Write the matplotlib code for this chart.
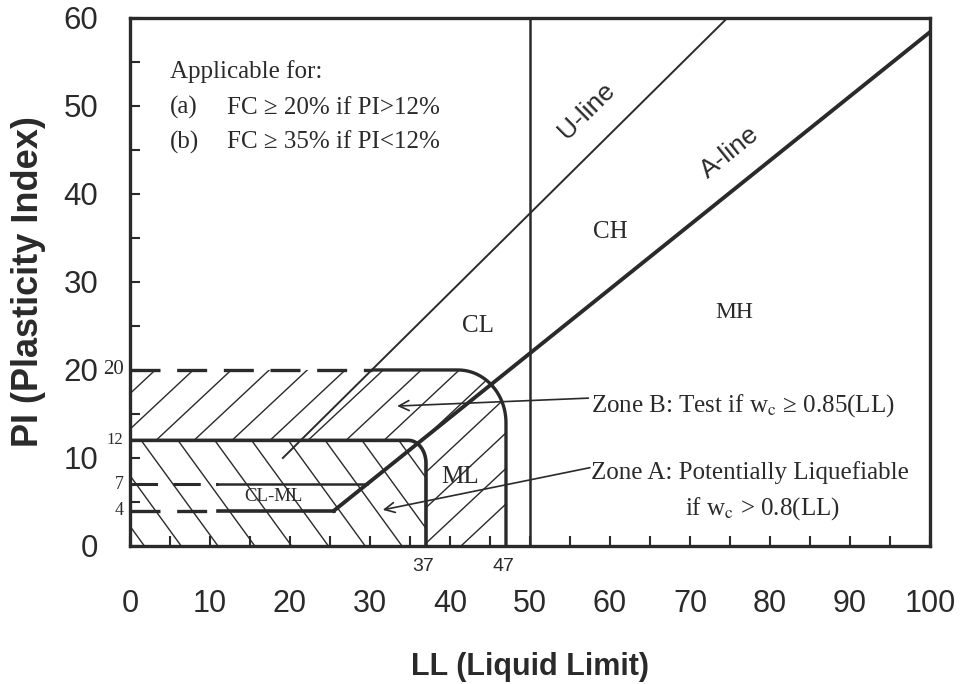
import numpy as np
import matplotlib.pyplot as plt
from matplotlib.path import Path
from matplotlib.patches import PathPatch

plt.rcParams["mathtext.fontset"] = "stix"

INK = "#2a2a2a"
SANS = "Liberation Sans"
SERIF = "Liberation Serif"

# Axis ticks
ll_ticks = [0, 10, 20, 30, 40, 50, 60, 70, 80, 90, 100]
pi_ticks = [0, 10, 20, 30, 40, 50, 60]

# Casagrande lines: PI = slope * (LL - ll0)
a_slope, a_ll0 = 0.73, 20
u_slope, u_ll0 = 0.9, 8
u_start_pi = 10

# Liquefaction zone limits
zone_a_ll, zone_a_pi = 37, 12
zone_b_ll, zone_b_pi = 47, 20
clml_pi = [4, 7]
dash_end_ll = 11

# Soil group labels
soil_names = ["CL", "CH", "MH", "ML", "CL-ML"]
soil_ll = [43.5, 60.0, 75.5, 41.3, 17.9]
soil_pi = [25.0, 35.7, 26.5, 7.8, 5.6]
soil_size = [18, 18, 17, 18, 13.5]

# Extra y labels next to axis
extra_pi = [20, 12, 7, 4]
extra_size = [15, 12, 13, 13]


def a_line_ll(pi):
    return pi / a_slope + a_ll0


def u_line_ll(pi):
    return pi / u_slope + u_ll0


def corner(ll_edge, pi_top, rx, ry, n=24):
    t = np.linspace(np.pi / 2, 0, n)
    return (ll_edge - rx) + rx * np.cos(t), (pi_top - ry) + ry * np.sin(t)


fig = plt.figure(figsize=(9.65, 6.84), dpi=100)
ax = fig.add_axes([0.1347, 0.2018, 0.8290, 0.7719])
ax.set_xlim(0, 100)
ax.set_ylim(0, 60)

# zone outlines
axc, ayc = corner(zone_a_ll, zone_a_pi, 2.2, 2.6)
bxc, byc = corner(zone_b_ll, zone_b_pi, 6.0, 6.0)
u20 = u_line_ll(zone_b_pi)
bx_solid = np.concatenate([[u20], bxc, [zone_b_ll]])
by_solid = np.concatenate([[zone_b_pi], byc, [0]])
ax_out = np.concatenate([[0], axc, [zone_a_ll]])
ay_out = np.concatenate([[zone_a_pi], ayc, [0]])

# clip paths for hatching
a_poly = np.column_stack([np.concatenate([[0], ax_out, [0]]),
                          np.concatenate([[0], ay_out, [0]])])
b_poly = np.column_stack([
    np.concatenate([[0], bxc, [zone_b_ll], ax_out[::-1]]),
    np.concatenate([[zone_b_pi], byc, [0], ay_out[::-1]]),
])
clip_a = PathPatch(Path(a_poly), facecolor="none", edgecolor="none")
clip_b = PathPatch(Path(b_poly), facecolor="none", edgecolor="none")
ax.add_patch(clip_a)
ax.add_patch(clip_b)

pi_span = np.array([-1, 22])
for x0 in np.arange(-30, 60, 4.75):
    ln, = ax.plot(x0 + (pi_span - 12) / 0.85, pi_span, color=INK, lw=1.0)
    ln.set_clip_path(clip_b)
for x0 in np.arange(1.4 - 4.6 * 3, 60, 4.6):
    ln, = ax.plot(x0 + (pi_span - 12) / -1.25, pi_span, color=INK, lw=1.0)
    ln.set_clip_path(clip_a)

# zone B boundary: dashed up to the U-line, solid after
ax.plot([0, u20], [zone_b_pi, zone_b_pi], color=INK, lw=2.4, dashes=(9, 5))
ax.plot(bx_solid, by_solid, color=INK, lw=2.4, solid_capstyle="butt")
# zone A boundary
ax.plot(ax_out, ay_out, color=INK, lw=2.6)

# CL-ML band
ax.plot([0, dash_end_ll], [clml_pi[1]] * 2, color=INK, lw=2.2, dashes=(9, 5))
ax.plot([dash_end_ll, a_line_ll(clml_pi[1])], [clml_pi[1]] * 2, color=INK, lw=1.8)
ax.plot([0, dash_end_ll], [clml_pi[0]] * 2, color=INK, lw=2.4, dashes=(9, 5))
ax.plot([dash_end_ll, a_line_ll(clml_pi[0])], [clml_pi[0]] * 2, color=INK, lw=2.6)

# A-line, U-line, LL = 50
ax.plot([a_line_ll(clml_pi[0]), 100], [clml_pi[0], a_slope * (100 - a_ll0)],
        color=INK, lw=2.8)
ax.plot([u_line_ll(u_start_pi), u_line_ll(60)], [u_start_pi, 60], color=INK, lw=1.4)
ax.axvline(50, color=INK, lw=1.8)

ax.text(57.1, 49.5, "U-line", rotation=44.7, ha="center", va="center",
        fontsize=19, family=SANS, color=INK, rotation_mode="anchor")
ax.text(75.0, 44.7, "A-line", rotation=38.8, ha="center", va="center",
        fontsize=19, family=SANS, color=INK, rotation_mode="anchor")

for name, x, y, s in zip(soil_names, soil_ll, soil_pi, soil_size):
    ax.text(x, y, name, ha="center", va="center", fontsize=s, family=SERIF, color=INK)

# notes
note_kw = dict(fontsize=18, family=SERIF, color=INK, va="center", ha="left")
ax.text(5.0, 53.9, "Applicable for:", **note_kw)
ax.text(5.0, 49.8, "(a)", **note_kw)
ax.text(12.1, 49.8, "FC \u2265 20% if PI>12%", **note_kw)
ax.text(5.0, 45.9, "(b)", **note_kw)
ax.text(12.1, 45.9, "FC \u2265 35% if PI<12%", **note_kw)

ax.text(57.6, 16.0, "Zone B: Test if w$_\\mathrm{c}$ \u2265 0.85(LL)", **note_kw)
ax.text(57.6, 8.3, "Zone A: Potentially Liquefiable", **note_kw)
ax.text(69.4, 4.3, "if w$_\\mathrm{c}$ > 0.8(LL)", **note_kw)

arrow_kw = dict(arrowstyle="->", color=INK, lw=1.2, shrinkA=0, shrinkB=0,
                mutation_scale=18)
ax.annotate("", xy=(33.4, 15.9), xytext=(57.3, 16.8), arrowprops=arrow_kw)
ax.annotate("", xy=(31.6, 4.1), xytext=(57.5, 8.9), arrowprops=arrow_kw)

# boundary values on the axes
for pi, s in zip(extra_pi, extra_size):
    ax.text(-0.8, pi, str(pi), ha="right", va="center", fontsize=s,
            family=SERIF, color=INK, clip_on=False)
for ll in [zone_a_ll, zone_b_ll]:
    ax.text(ll - 0.3, -2.3, str(ll), ha="center", va="center", fontsize=14,
            family=SANS, color=INK, clip_on=False)

# axes styling
ax.set_xticks(ll_ticks)
ax.set_yticks(pi_ticks)
ax.set_xticks(np.arange(5, 100, 10), minor=True)
ax.set_yticks(np.arange(5, 60, 10), minor=True)
ax.tick_params(which="both", direction="in", length=7, width=1.5, color=INK,
               top=False, right=False)
ax.tick_params(axis="x", which="major", pad=31, labelsize=22, labelcolor=INK)
ax.tick_params(axis="y", which="major", pad=23, labelsize=22.5, labelcolor=INK)
for lab in ax.get_xticklabels() + ax.get_yticklabels():
    lab.set_family(SANS)
for sp in ax.spines.values():
    sp.set_linewidth(2.4)
    sp.set_color(INK)

ax.set_xlabel("LL (Liquid Limit)", fontsize=22, fontweight="bold", family=SANS,
              color=INK, labelpad=24)
ax.set_ylabel("PI (Plasticity Index)", fontsize=26, fontweight="bold", family=SANS,
              color=INK, labelpad=12)

fig.savefig("out.png", dpi=100)
plt.close(fig)
